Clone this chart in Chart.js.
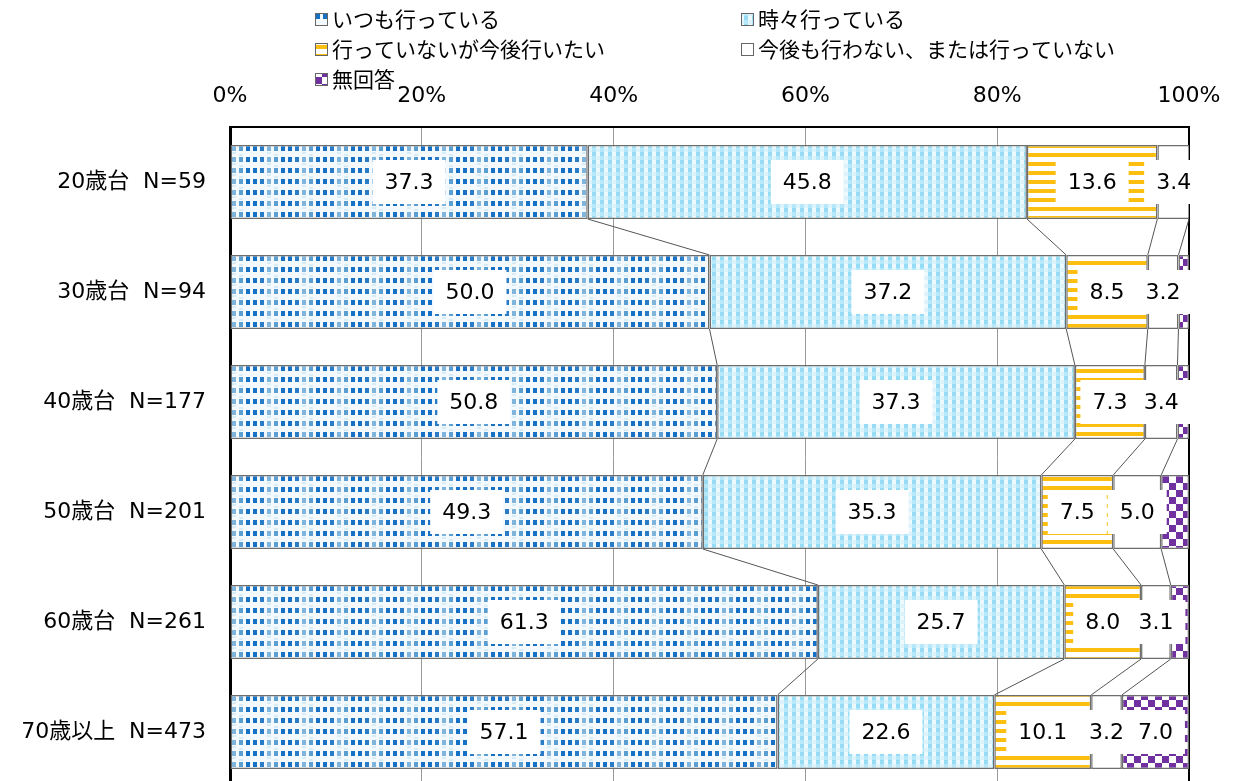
<!DOCTYPE html>
<html>
<head>
<meta charset="utf-8">
<script src="https://cdn.jsdelivr.net/npm/chart.js@4.4.0/dist/chart.umd.min.js"></script>
<style>
  html, body { margin: 0; padding: 0; background: #ffffff; overflow: hidden; }
  #wrap { width: 1234px; height: 800px; }
</style>
</head>
<body>
<div id="wrap"><canvas id="chart" width="1234" height="800"></canvas></div>
<script>
// Age groups with sample sizes
const categories = ['20歳台  N=59', '30歳台  N=94', '40歳台  N=177', '50歳台  N=201', '60歳台  N=261', '70歳以上  N=473'];
const seriesNames = ['いつも行っている', '時々行っている', '行っていないが今後行いたい', '今後も行わない、または行っていない', '無回答'];

// Shares (%) per age group
const always    = [37.3, 50.0, 50.8, 49.3, 61.3, 57.1];
const sometimes = [45.8, 37.2, 37.3, 35.3, 25.7, 22.6];
const wantTo    = [13.6,  8.5,  7.3,  7.5,  8.0, 10.1];
const never     = [ 3.4,  3.2,  3.4,  5.0,  3.1,  3.2];
const noAnswer  = [ 0.0,  1.1,  1.2,  2.9,  1.9,  7.0];

const tickValues = [0, 20, 40, 60, 80, 100];
const seriesValues = [always, sometimes, wantTo, never, noAnswer];

const canvas = document.getElementById('chart');
const mainCtx = canvas.getContext('2d');

function makePattern(w, h, draw) {
  const c = document.createElement('canvas');
  c.width = w; c.height = h;
  const g = c.getContext('2d');
  draw(g, w, h);
  return mainCtx.createPattern(c, 'repeat');
}

// Blue dotted fill, with a lighter band every few columns
const patAlways = makePattern(35, 11, (g, w, h) => {
  g.fillStyle = '#f3f9fd'; g.fillRect(0, 0, w, h);
  const cols = ['#1670c4', '#1670c4', '#2a7cc6', '#7fb5dc', '#5a9ed2'];
  cols.forEach((col, k) => {
    g.fillStyle = col; g.fillRect(1 + k * 7, 3, 4, 5);
  });
  g.fillStyle = '#d6ecf7'; g.fillRect(22, 9, 4, 2); g.fillRect(29, 0, 4, 2);
});
// Light blue checker fill
const patSometimes = makePattern(8, 8, (g, w, h) => {
  g.fillStyle = '#eef9fd'; g.fillRect(0, 0, w, h);
  g.fillStyle = '#95dcf5'; g.fillRect(0, 0, 4, 4);
  g.fillStyle = '#b7e8f9'; g.fillRect(0, 4, 4, 4);
  g.fillStyle = '#dcf3fb'; g.fillRect(4, 4, 4, 4);
});
// Yellow horizontal stripes
const patWant = makePattern(4, 9, (g, w, h) => {
  g.fillStyle = '#ffffff'; g.fillRect(0, 0, w, h);
  g.fillStyle = '#fdbf0f'; g.fillRect(0, 0, w, 4);
});
// Purple checkerboard
const patNoAnswer = makePattern(14, 14, (g, w, h) => {
  g.fillStyle = '#ffffff'; g.fillRect(0, 0, w, h);
  g.fillStyle = '#7030a0';
  g.fillRect(0, 0, 7, 7); g.fillRect(7, 7, 7, 7);
});

const fills = [patAlways, patSometimes, patWant, '#ffffff', patNoAnswer];

const numFont = '22px "DejaVu Sans", "Noto Sans CJK JP", sans-serif';

// Thin lines joining matching segment boundaries of neighbouring bars
const connectorLines = {
  id: 'connectorLines',
  afterDatasetsDraw(chart) {
    const ctx = chart.ctx;
    const xs = chart.scales.x;
    const meta0 = chart.getDatasetMeta(0);
    ctx.save();
    ctx.strokeStyle = '#555555';
    ctx.lineWidth = 1;
    for (let i = 0; i < categories.length - 1; i++) {
      const a = meta0.data[i], b = meta0.data[i + 1];
      const y1 = a.y + a.height / 2;
      const y2 = b.y - b.height / 2;
      let c1 = 0, c2 = 0;
      for (let k = 0; k < seriesValues.length - 1; k++) {
        c1 += seriesValues[k][i];
        c2 += seriesValues[k][i + 1];
        ctx.beginPath();
        ctx.moveTo(Math.min(xs.getPixelForValue(c1), xs.right), y1);
        ctx.lineTo(Math.min(xs.getPixelForValue(c2), xs.right), y2);
        ctx.stroke();
      }
    }
    ctx.restore();
  }
};

// Value labels on white boxes
const valueLabels = {
  id: 'valueLabels',
  afterDatasetsDraw(chart) {
    const ctx = chart.ctx;
    ctx.save();
    ctx.font = numFont;
    ctx.textAlign = 'center';
    ctx.textBaseline = 'middle';
    chart.data.datasets.forEach((ds, di) => {
      const meta = chart.getDatasetMeta(di);
      meta.data.forEach((el, i) => {
        const v = ds.data[i];
        if (v < 3) return;
        const txt = v.toFixed(1);
        const cx = (el.x + el.base) / 2;
        const cy = el.y;
        const w = ctx.measureText(txt).width + 24;
        const h = 44;
        ctx.fillStyle = '#ffffff';
        ctx.fillRect(cx - w / 2, cy - h / 2, w, h);
        ctx.fillStyle = '#000000';
        ctx.fillText(txt, cx, cy + 1);
      });
    });
    ctx.restore();
  }
};

// Two-column legend above the plot
const topLegend = {
  id: 'topLegend',
  afterDraw(chart) {
    const ctx = chart.ctx;
    const colX = [315, 741];
    const rowY = [19, 49, 79];
    ctx.save();
    ctx.font = '21px "Noto Sans CJK JP", sans-serif';
    ctx.textBaseline = 'middle';
    ctx.textAlign = 'left';
    chart.data.datasets.forEach((ds, i) => {
      const x = colX[i % 2];
      const y = rowY[Math.floor(i / 2)];
      ctx.fillStyle = fills[i];
      ctx.fillRect(x, y - 6, 12, 12);
      ctx.strokeStyle = '#666666';
      ctx.lineWidth = 1;
      ctx.strokeRect(x + 0.5, y - 5.5, 12, 12);
      ctx.fillStyle = '#000000';
      ctx.fillText(ds.label, x + 17, y);
    });
    ctx.restore();
  }
};

function zeroPadding(scale) {
  scale.paddingLeft = 0; scale.paddingRight = 0;
  scale.paddingTop = 0; scale.paddingBottom = 0;
}

new Chart(canvas, {
  type: 'bar',
  data: {
    labels: categories,
    datasets: seriesValues.map((vals, i) => ({
      label: seriesNames[i],
      data: vals,
      backgroundColor: fills[i],
      borderColor: '#6e6e6e',
      borderWidth: 1.5,
      borderSkipped: false,
      barPercentage: 0.673,
      categoryPercentage: 1.0
    }))
  },
  options: {
    indexAxis: 'y',
    responsive: false,
    animation: false,
    devicePixelRatio: 1,
    layout: { padding: { top: 0, left: 0, right: 45, bottom: 13 } },
    plugins: {
      legend: { display: false },
      tooltip: { enabled: false }
    },
    scales: {
      x: {
        position: 'top',
        stacked: true,
        min: 0,
        max: 100,
        afterBuildTicks(scale) { scale.ticks = tickValues.map(v => ({ value: v })); },
        afterFit(scale) { scale.height = 127; zeroPadding(scale); },
        ticks: {
          padding: 18,
          color: '#000000',
          font: { family: '"DejaVu Sans", "Noto Sans CJK JP", sans-serif', size: 22 },
          callback: v => v + '%'
        },
        grid: {
          drawTicks: false,
          color: c => (c.tick && (c.tick.value === 100 || c.tick.value === 0)) ? '#000000' : '#9a9a9a',
          lineWidth: c => (c.tick && c.tick.value === 100) ? 2 : 1
        },
        border: { display: true, color: '#000000', width: 2 }
      },
      y: {
        stacked: true,
        afterFit(scale) { scale.width = 230; zeroPadding(scale); },
        ticks: {
          padding: 24,
          color: '#000000',
          font: { family: '"DejaVu Sans", "Noto Sans CJK JP", sans-serif', size: 22 }
        },
        grid: { display: false, drawTicks: false },
        border: { display: true, color: '#000000', width: 3 }
      }
    }
  },
  plugins: [connectorLines, valueLabels, topLegend]
});
</script>
</body>
</html>
